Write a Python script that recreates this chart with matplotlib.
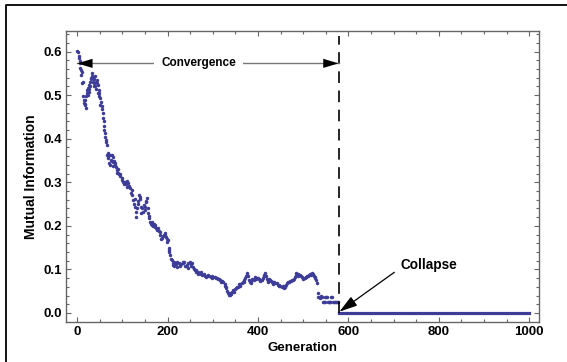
import matplotlib.pyplot as plt
import numpy as np
from matplotlib.lines import Line2D

# generation / mutual information (pre-collapse phase)
gen = [0, 2, 3, 5, 6, 7, 8, 10, 11, 12, 13, 14, 15, 16, 17, 19, 21, 22, 24, 25,
       27, 28, 30, 32, 33, 35, 36, 38, 39, 41, 43, 44, 46, 47, 49, 50, 52, 54, 55, 56,
       58, 59, 60, 61, 63, 65, 66, 68, 70, 71, 72, 74, 76, 78, 80, 81, 83, 85, 87, 89,
       91, 93, 95, 98, 100, 102, 105, 108, 110, 113, 115, 117, 120, 122, 124, 126, 128, 130, 131, 133,
       135, 137, 139, 142, 144, 147, 150, 152, 154, 156, 157, 159, 161, 163, 165, 168, 170, 172, 175, 177,
       179, 182, 184, 187, 189, 191, 194, 196, 198, 200, 202, 204, 206, 207, 209, 211, 212, 215, 218, 221,
       224, 227, 230, 233, 235, 238, 241, 243, 246, 249, 251, 253, 256, 258, 260, 263, 266, 268, 271, 274,
       277, 280, 283, 286, 289, 292, 295, 298, 301, 305, 308, 311, 314, 316, 319, 321, 323, 326, 328, 330,
       332, 334, 336, 338, 340, 342, 345, 348, 351, 353, 356, 359, 361, 364, 366, 369, 371, 373, 375, 377,
       379, 382, 385, 387, 390, 393, 396, 398, 400, 403, 405, 408, 410, 413, 415, 417, 419, 421, 423, 426,
       428, 430, 433, 436, 438, 441, 444, 447, 449, 452, 455, 458, 460, 462, 465, 467, 470, 473, 476, 478,
       481, 483, 485, 488, 490, 493, 496, 498, 500, 503, 505, 507, 510, 513, 516, 519, 521, 523, 526, 528,
       530, 532, 533, 536, 539, 541, 544, 546, 548, 550, 552, 555, 557, 559, 561, 563, 565, 568, 570, 572,
       574, 576]
mi = [0.602, 0.598, 0.590, 0.578, 0.573, 0.562, 0.558, 0.554, 0.529, 0.531, 0.497, 0.490, 0.482, 0.478, 0.489, 0.497, 0.504, 0.512, 0.516, 0.508,
      0.524, 0.520, 0.540, 0.550, 0.545, 0.531, 0.536, 0.527, 0.522, 0.530, 0.535, 0.528, 0.524, 0.512, 0.504, 0.493, 0.485, 0.474, 0.468, 0.458,
      0.440, 0.430, 0.420, 0.413, 0.397, 0.386, 0.363, 0.360, 0.362, 0.344, 0.363, 0.352, 0.348, 0.347, 0.359, 0.350, 0.344, 0.336, 0.328, 0.330,
      0.321, 0.318, 0.314, 0.309, 0.305, 0.300, 0.301, 0.297, 0.303, 0.298, 0.292, 0.286, 0.282, 0.270, 0.259, 0.250, 0.244, 0.232, 0.221, 0.240,
      0.258, 0.271, 0.262, 0.244, 0.240, 0.248, 0.236, 0.255, 0.263, 0.240, 0.229, 0.218, 0.210, 0.205, 0.202, 0.200, 0.204, 0.198, 0.196, 0.190,
      0.194, 0.185, 0.178, 0.172, 0.176, 0.180, 0.183, 0.175, 0.170, 0.168, 0.150, 0.145, 0.132, 0.125, 0.122, 0.115, 0.110, 0.108, 0.112, 0.116,
      0.114, 0.108, 0.112, 0.116, 0.114, 0.109, 0.107, 0.110, 0.115, 0.117, 0.113, 0.114, 0.106, 0.102, 0.099, 0.095, 0.093, 0.090, 0.091, 0.089,
      0.088, 0.090, 0.086, 0.085, 0.087, 0.084, 0.083, 0.084, 0.082, 0.083, 0.080, 0.078, 0.077, 0.076, 0.074, 0.073, 0.072, 0.066, 0.060, 0.057,
      0.050, 0.045, 0.042, 0.041, 0.044, 0.048, 0.053, 0.055, 0.057, 0.059, 0.060, 0.063, 0.066, 0.068, 0.072, 0.076, 0.080, 0.086, 0.091, 0.084,
      0.076, 0.072, 0.074, 0.077, 0.076, 0.078, 0.079, 0.081, 0.080, 0.078, 0.075, 0.076, 0.080, 0.086, 0.091, 0.085, 0.078, 0.074, 0.072, 0.075,
      0.073, 0.072, 0.070, 0.071, 0.069, 0.068, 0.065, 0.062, 0.061, 0.060, 0.061, 0.062, 0.060, 0.064, 0.068, 0.072, 0.073, 0.074, 0.075, 0.076,
      0.082, 0.088, 0.091, 0.089, 0.088, 0.087, 0.084, 0.082, 0.080, 0.081, 0.083, 0.083, 0.085, 0.087, 0.090, 0.091, 0.089, 0.086, 0.083, 0.076,
      0.068, 0.045, 0.037, 0.037, 0.038, 0.036, 0.025, 0.026, 0.026, 0.037, 0.037, 0.026, 0.025, 0.026, 0.037, 0.036, 0.026, 0.025, 0.026, 0.025,
      0.026, 0.025]

# scattered stragglers around the main trace, also
gen_extra = [4, 9, 18, 20, 23, 26, 29, 31, 34, 37, 40, 42, 45, 48, 51, 57, 62, 64, 67, 69,
             73, 77, 79, 84, 88, 94, 103, 111, 119, 127, 134, 138, 141, 146, 149, 153, 158, 166, 173, 181,
             186, 193, 199, 203, 213, 220, 228, 236, 244, 252, 262, 273, 285, 297, 309, 318, 327, 337, 346, 358,
             368, 376, 384, 394, 404, 414, 424, 434, 446, 457, 468, 479, 489, 499, 509, 518, 527, 538, 549, 560]
mi_extra = [0.585, 0.547, 0.480, 0.470, 0.500, 0.515, 0.530, 0.538, 0.540, 0.520, 0.545, 0.515, 0.505, 0.498, 0.478, 0.447, 0.405, 0.392, 0.355, 0.368,
            0.340, 0.362, 0.338, 0.340, 0.322, 0.320, 0.295, 0.290, 0.276, 0.262, 0.250, 0.266, 0.230, 0.232, 0.244, 0.258, 0.222, 0.208, 0.201, 0.188,
            0.169, 0.178, 0.162, 0.140, 0.118, 0.106, 0.110, 0.118, 0.104, 0.109, 0.098, 0.094, 0.082, 0.080, 0.081, 0.070, 0.062, 0.045, 0.049, 0.066,
            0.070, 0.087, 0.068, 0.082, 0.074, 0.088, 0.077, 0.066, 0.064, 0.058, 0.070, 0.079, 0.086, 0.077, 0.086, 0.088, 0.080, 0.035, 0.037, 0.026]

# after the collapse every generation sits at zero
collapse_gen = np.arange(578, 1001)
collapse_mi = np.zeros(len(collapse_gen))

collapse_at = 578
conv_level = 0.573

plt.rcParams['font.family'] = ['Liberation Sans', 'DejaVu Sans']

fig = plt.figure(figsize=(5.67, 3.62), dpi=100)
ax = fig.add_axes([66 / 567, 1 - 321.7 / 362, (538.7 - 66) / 567, (321.7 - 30.7) / 362])

dot = '#3d3d99'
ax.plot(gen, mi, 'o', color=dot, ms=2.5, mew=0)
ax.plot(gen_extra, mi_extra, 'o', color=dot, ms=2.5, mew=0)
# the zero points overlap into a solid band
ax.plot(collapse_gen, collapse_mi, '-', color=dot, lw=2.3)

# dashed marker of the collapse generation
ax.plot([collapse_at, collapse_at], [0, 0.635], color='black', lw=1.2,
        dashes=(7, 4.5))

# convergence double arrow: grey shaft, black heads
ax.plot([0, collapse_at], [conv_level, conv_level], color='#777777', lw=1.0, zorder=3)
for tip, tail in [(0, 40), (collapse_at, collapse_at - 40)]:
    ax.annotate('', xy=(tip, conv_level), xytext=(tail, conv_level),
                arrowprops=dict(arrowstyle='-|>,head_length=1.1,head_width=0.33',
                                color='black', lw=0, shrinkA=0, shrinkB=0,
                                mutation_scale=10), zorder=4)
ax.text(268, conv_level, 'Convergence', ha='center', va='center', fontsize=8.5,
        fontweight='bold', zorder=5,
        bbox=dict(facecolor='white', edgecolor='none', pad=5))

ax.annotate('Collapse', xy=(collapse_at + 2, 0.003), xytext=(778, 0.110),
            ha='center', va='center', fontsize=9.8, fontweight='bold',
            arrowprops=dict(arrowstyle='-|>,head_length=1.1,head_width=0.33',
                            color='black', lw=0.9, shrinkA=3, shrinkB=0,
                            relpos=(0, 0.3), mutation_scale=10))

ax.set_xlim(-25, 1021)
ax.set_ylim(-0.02, 0.648)
ax.set_xticks(np.arange(0, 1001, 200))
ax.set_xticks(np.arange(0, 1001, 50), minor=True)
ax.set_yticks(np.arange(0, 0.61, 0.1))
ax.set_yticks(np.arange(0, 0.641, 0.02), minor=True)
ax.set_yticklabels(['0.0', '0.1', '0.2', '0.3', '0.4', '0.5', '0.6'])

frame = '#666666'
for s in ax.spines.values():
    s.set_color(frame)
    s.set_linewidth(1.0)
ax.tick_params(which='both', direction='in', top=True, right=True, color=frame,
               labelsize=9.5, width=0.8)
ax.tick_params(which='major', length=3.5, pad=3)
ax.tick_params(which='minor', length=2)
for lab in ax.get_xticklabels() + ax.get_yticklabels():
    lab.set_fontweight('bold')

ax.set_xlabel('Generation', fontsize=9.5, fontweight='bold', labelpad=3)
ax.set_ylabel('Mutual Information', fontsize=10, fontweight='bold', labelpad=4)

# outer border of the exported figure (only top and left visible)
fig.add_artist(Line2D([6 / 567, 6 / 567, 1.0], [0.0, 1 - 5 / 362, 1 - 5 / 362],
                      transform=fig.transFigure, color='black', lw=1.3))

fig.savefig('out.png', dpi=100)
